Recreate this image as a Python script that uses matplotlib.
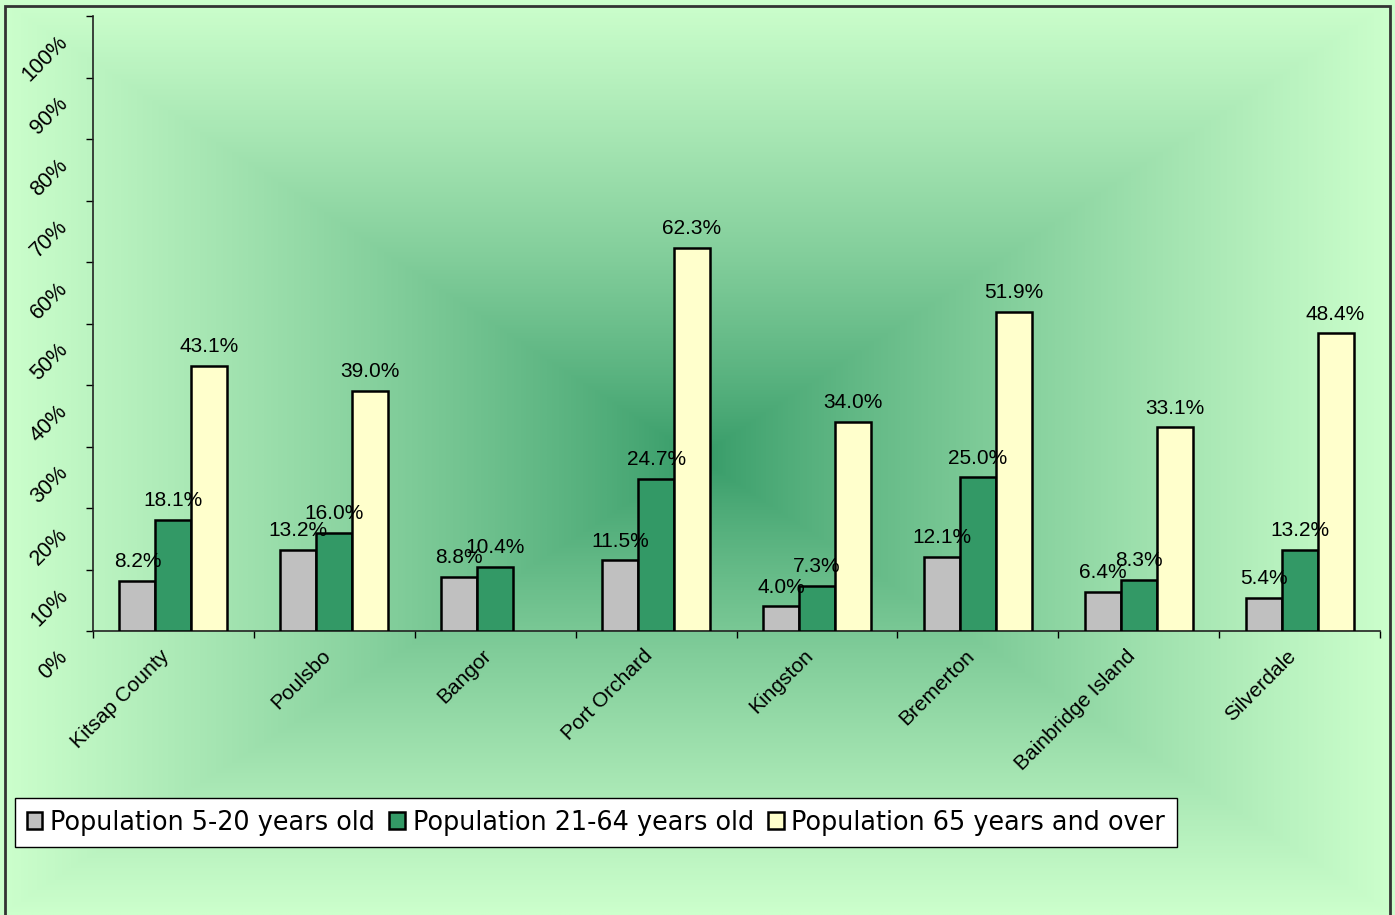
import numpy as np
import matplotlib
matplotlib.use("Agg")
import matplotlib.pyplot as plt
from matplotlib.colors import LinearSegmentedColormap
from matplotlib.patches import Rectangle
from matplotlib.transforms import ScaledTranslation

# data
places = ["Kitsap County", "Poulsbo", "Bangor", "Port Orchard", "Kingston",
          "Bremerton", "Bainbridge Island", "Silverdale"]
pop_5_20 = [8.2, 13.2, 8.8, 11.5, 4.0, 12.1, 6.4, 5.4]
pop_21_64 = [18.1, 16.0, 10.4, 24.7, 7.3, 25.0, 8.3, 13.2]
pop_65_up = [43.1, 39.0, np.nan, 62.3, 34.0, 51.9, 33.1, 48.4]
series_names = ["Population 5-20 years old", "Population 21-64 years old",
                "Population 65 years and over"]
yticks = list(range(0, 101, 10))

colors = ["#C0C0C0", "#339966", "#FFFFCC"]

W, H = 1395, 915
fig = plt.figure(figsize=(W / 100, H / 100), dpi=100)

# rectangular "from center" gradient background
bg = fig.add_axes([0, 0, 1, 1], zorder=0)
bg.set_axis_off()
gx = np.linspace(-1, 1, 700)
gy = np.linspace(-1, 1, 460)
GX, GY = np.meshgrid(gx, gy)
t = np.maximum(np.abs(GX), np.abs(GY)) ** 0.8
cmap = LinearSegmentedColormap.from_list("g", ["#339966", "#CCFFCC"])
bg.imshow(t, cmap=cmap, aspect="auto", extent=[0, 1, 0, 1], vmin=0, vmax=1)
bg.set_xlim(0, 1)
bg.set_ylim(0, 1)
bg.add_patch(Rectangle((5 / W, -0.01), 1385 / W, 1 - 6 / H + 0.01,
                       fill=False, ec="#333333", lw=2))

ax = fig.add_axes([93 / W, (H - 631) / H, 1287 / W, 615 / H], zorder=1)
ax.patch.set_alpha(0)

x = np.arange(len(places))
bw = 0.2237
all_series = [pop_5_20, pop_21_64, pop_65_up]
handles = []
for i, vals in enumerate(all_series):
    pos = x + (i - 1) * bw
    bars = ax.bar(pos, vals, bw, color=colors[i], edgecolor="black",
                  linewidth=1.8, label=series_names[i], zorder=3)
    handles.append(bars)
    for p, v in zip(pos, vals):
        if np.isnan(v):
            continue
        ax.annotate(f"{v:.1f}%", (p, v), xytext=(0, 7), textcoords="offset points",
                    ha="center", va="bottom", fontsize=15,
                    family="Liberation Sans", zorder=4)

ax.set_xlim(-0.5, len(places) - 0.5)
ax.set_ylim(0, 100)
for s in ["top", "right"]:
    ax.spines[s].set_visible(False)
for s in ["left", "bottom"]:
    ax.spines[s].set_color("#222222")
    ax.spines[s].set_linewidth(1.2)

ax.set_xticks(x)
ax.set_xticklabels(places, rotation=45, ha="right", va="top",
                   fontsize=15, family="Liberation Sans")
ax.set_xticks(np.arange(len(places) + 1) - 0.5, minor=True)
ax.tick_params(axis="x", which="major", length=0, pad=11)
ax.tick_params(axis="x", which="minor", length=5, width=1, direction="out")

ax.set_yticks(yticks)
ax.set_yticklabels([])
ax.tick_params(axis="y", length=5, width=1, direction="out")
off = ScaledTranslation(-0.21, -0.16, fig.dpi_scale_trans)
for v in yticks:
    ax.text(0, v, f"{v}%", transform=ax.get_yaxis_transform() + off,
            rotation=45, ha="right", va="top", fontsize=15.5,
            family="Liberation Sans")

leg = fig.legend(handles=handles, labels=series_names, loc="upper left",
                 bbox_to_anchor=(15 / W, 1 - 798 / H), borderaxespad=0,
                 ncol=3, fancybox=False, framealpha=1, edgecolor="black",
                 handlelength=0.62, handleheight=0.62, handletextpad=0.3,
                 columnspacing=0.55, borderpad=0.45,
                 prop={"family": "DejaVu Sans", "size": 18.4})
leg.get_frame().set_linewidth(1.0)
leg.set_zorder(5)

fig.savefig("out.png", dpi=100)
plt.close()
